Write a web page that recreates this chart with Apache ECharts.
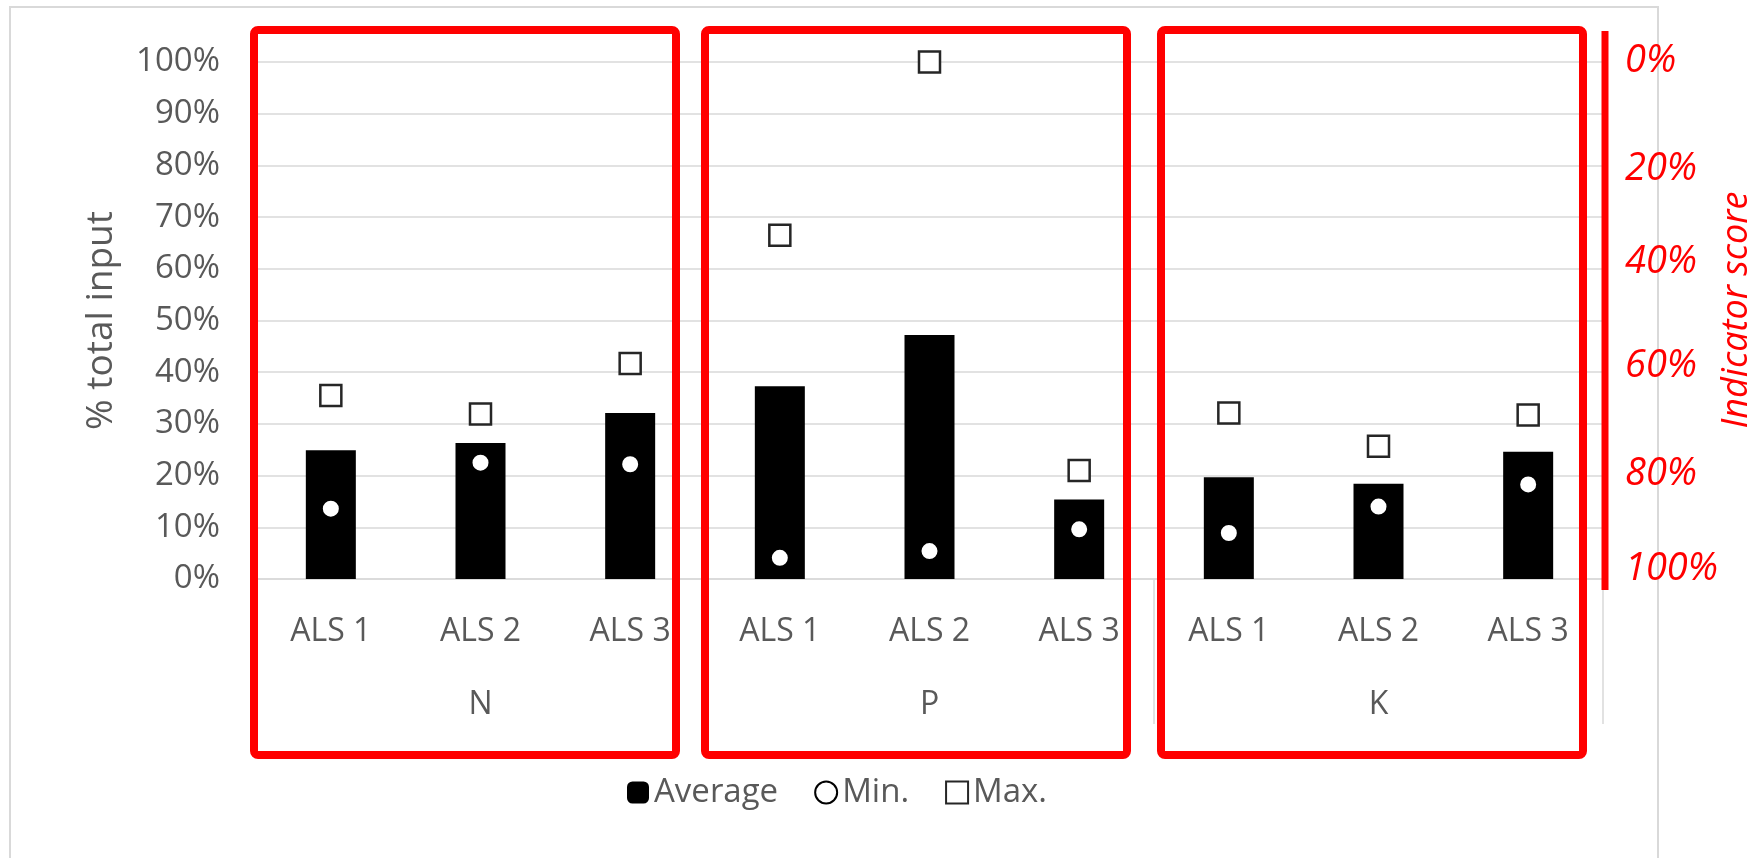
<!DOCTYPE html>
<html>
<head>
<meta charset="utf-8">
<script src="https://cdn.jsdelivr.net/npm/echarts@6/dist/echarts.min.js"></script>
<style>
  html, body { margin: 0; padding: 0; background: #fff; }
  #chart { width: 1760px; height: 858px; }
</style>
</head>
<body>
<div id="chart"></div>
<script>
// ---- data ----
const categories = ['ALS 1', 'ALS 2', 'ALS 3', 'ALS 1', 'ALS 2', 'ALS 3', 'ALS 1', 'ALS 2', 'ALS 3'];
const groups = ['N', 'P', 'K'];
const average = [24.9, 26.3, 32.1, 37.3, 47.2, 15.4, 19.7, 18.4, 24.6];
const minimum = [13.6, 22.5, 22.2, 4.1, 5.4, 9.6, 8.9, 14.0, 18.3];
const maximum = [35.5, 31.9, 41.7, 66.5, 100, 21.0, 32.1, 25.7, 31.7];
const yTicks = [0, 10, 20, 30, 40, 50, 60, 70, 80, 90, 100];
const indicatorLabels = ['0%', '20%', '40%', '60%', '80%', '100%'];

// ---- layout (annotation overlay) ----
const indicatorLabelY = [61, 169, 262, 366, 474, 569];
const redBoxesX = [254, 705, 1161];

const FONT = '"Open Sans", "Noto Sans", sans-serif';
const GREY = '#595959';
const LINE = '#d9d9d9';

const chart = echarts.init(document.getElementById('chart'), null, { renderer: 'canvas' });

const graphic = [
  { type: 'rect', z: 0, silent: true,
    shape: { x: 10, y: 7, width: 1648, height: 900 },
    style: { fill: 'none', stroke: LINE, lineWidth: 2 } }
];
redBoxesX.forEach(x => graphic.push({
  type: 'rect', z: 100, silent: true,
  shape: { x: x, y: 30, width: 422, height: 725, r: 4 },
  style: { fill: 'none', stroke: '#ff0000', lineWidth: 8 }
}));
graphic.push({
  type: 'line', z: 100, silent: true,
  shape: { x1: 1605, y1: 31, x2: 1605, y2: 590 },
  style: { stroke: '#ff0000', lineWidth: 7 }
});
indicatorLabels.forEach((t, i) => graphic.push({
  type: 'text', z: 100, silent: true, x: 1625, y: indicatorLabelY[i],
  style: { text: t, fill: '#ff0000', font: 'italic 38px ' + FONT,
           textAlign: 'left', textVerticalAlign: 'middle' }
}));
graphic.push({
  type: 'text', z: 100, silent: true, x: 1737, y: 310, rotation: Math.PI / 2,
  style: { text: 'Indicator score', fill: '#ff0000', font: 'italic 36px ' + FONT,
           textAlign: 'center', textVerticalAlign: 'middle' }
});

const option = {
  backgroundColor: '#fff',
  animation: false,
  textStyle: { fontFamily: FONT },
  grid: { left: 256, right: 157, top: 62, bottom: 279, containLabel: false },
  legend: {
    data: ['Average', 'Min.', 'Max.'],
    left: 627, top: 776,
    padding: 0,
    itemWidth: 22, itemHeight: 22, itemGap: 36,
    textStyle: { fontSize: 33, color: GREY, fontFamily: FONT }
  },
  xAxis: [
    {
      type: 'category', data: categories, position: 'bottom', offset: 0,
      axisLine: { show: true, lineStyle: { color: LINE, width: 1.5 } },
      axisTick: { show: false },
      axisLabel: { fontSize: 32, lineHeight: 32, color: GREY, margin: 37, fontFamily: FONT, interval: 0 },
      splitLine: { show: false }
    },
    {
      type: 'category', data: groups, position: 'bottom', offset: 0,
      axisLine: { show: false },
      axisTick: { show: true, length: 145, lineStyle: { color: LINE, width: 1.5 } },
      axisLabel: { fontSize: 32, lineHeight: 32, color: GREY, margin: 110, fontFamily: FONT, interval: 0 },
      splitLine: { show: false }
    }
  ],
  yAxis: {
    type: 'value', min: yTicks[0], max: yTicks[yTicks.length - 1], interval: 10,
    name: '% total input', nameLocation: 'middle', nameRotate: 90, nameGap: 136,
    nameTextStyle: { fontSize: 37, color: GREY, fontFamily: FONT },
    axisLine: { show: false }, axisTick: { show: false },
    axisLabel: { formatter: '{value}%', fontSize: 33, color: GREY, margin: 36, fontFamily: FONT },
    splitLine: { lineStyle: { color: LINE, width: 1.5 } }
  },
  series: [
    { name: 'Average', type: 'bar', xAxisIndex: 0, data: average, barWidth: 50,
      itemStyle: { color: '#000' }, z: 2 },
    { name: 'Min.', type: 'scatter', xAxisIndex: 0, data: minimum, symbol: 'circle', symbolSize: 18,
      itemStyle: { color: '#fff', borderColor: '#000', borderWidth: 2, opacity: 1 }, z: 3 },
    { name: 'Max.', type: 'scatter', xAxisIndex: 0, data: maximum, symbol: 'rect', symbolSize: 21,
      itemStyle: { color: '#fff', borderColor: '#262626', borderWidth: 2.5, opacity: 1 }, z: 3 }
  ],
  graphic: graphic
};
chart.setOption(option);
</script>
</body>
</html>
